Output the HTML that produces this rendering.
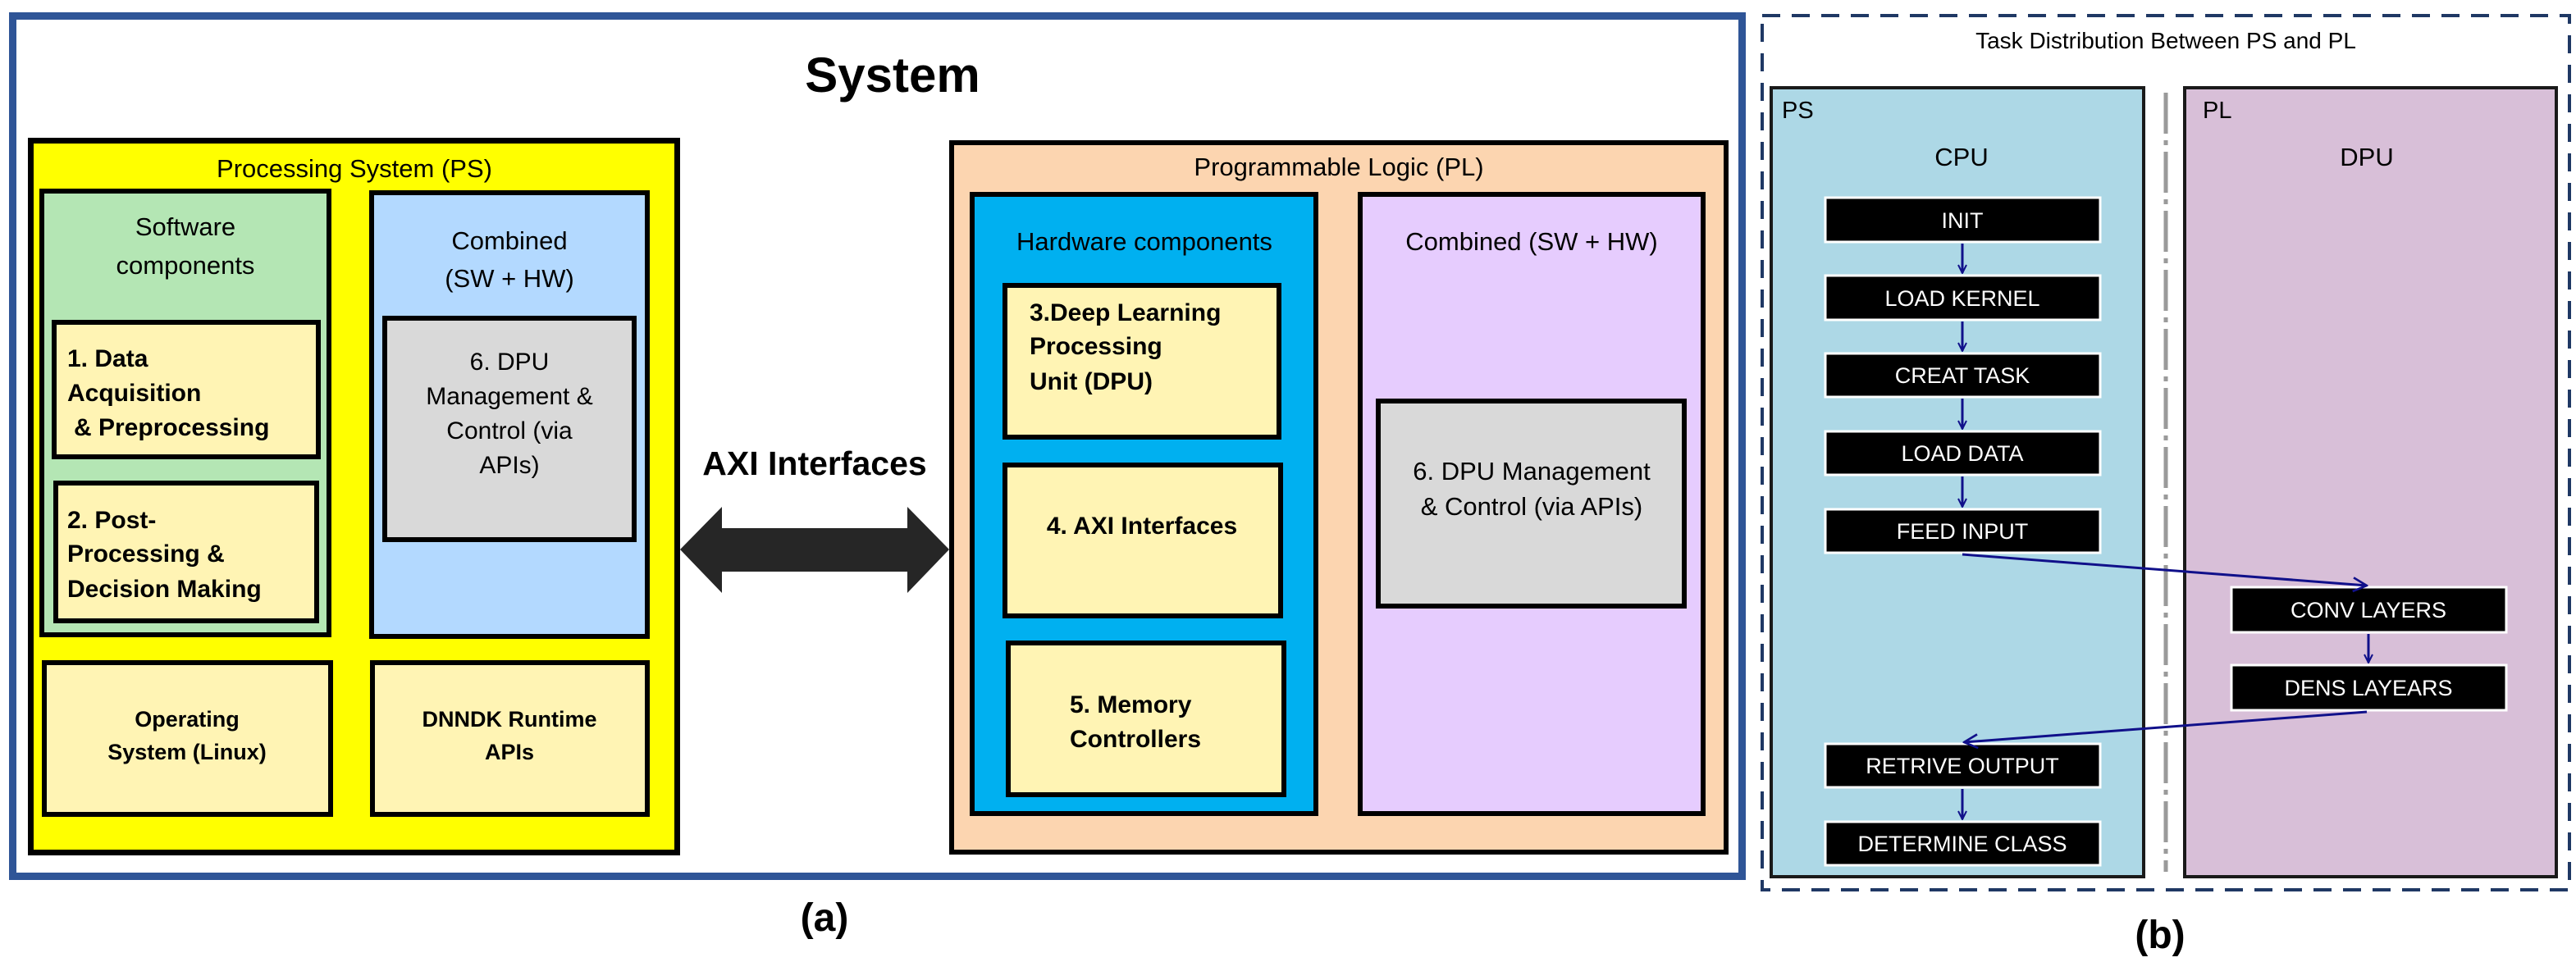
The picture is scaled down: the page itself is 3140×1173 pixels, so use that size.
<!DOCTYPE html>
<html><head><meta charset="utf-8"><style>
html,body{margin:0;padding:0;background:#fff;}
svg{display:block;}
.n{font-family:"Liberation Sans",sans-serif;}
</style></head><body>
<svg width="3140" height="1173" viewBox="0 0 3140 1173" xmlns="http://www.w3.org/2000/svg" class="n">
<defs>
<marker id="ah" viewBox="0 0 12 12" refX="11" refY="6" markerWidth="12" markerHeight="12" orient="auto" markerUnits="userSpaceOnUse">
<path d="M1,1 L11,6 L1,11" fill="none" stroke="#10108a" stroke-width="2"/></marker>
<marker id="ah2" viewBox="0 0 12 12" refX="11" refY="6" markerWidth="20" markerHeight="20" orient="auto" markerUnits="userSpaceOnUse">
<path d="M1,1 L11,6 L1,11" fill="none" stroke="#10108a" stroke-width="1.6"/></marker>
</defs>
<!-- (a) -->
<rect x="15.5" y="19.5" width="2108" height="1049" fill="#fff" stroke="#2f5597" stroke-width="9"/>
<text x="1088" y="112" font-size="60" font-weight="bold" text-anchor="middle">System</text>

<rect x="37.5" y="171.5" width="788" height="868" fill="#ffff00" stroke="#000" stroke-width="7"/>
<text x="432" y="216" font-size="31" text-anchor="middle">Processing System (PS)</text>
<rect x="51" y="233" width="350" height="541" fill="#b4e6b4" stroke="#000" stroke-width="6"/>
<text x="226" y="287" font-size="31" text-anchor="middle">Software</text>
<text x="226" y="334" font-size="31" text-anchor="middle">components</text>
<rect x="453" y="235" width="336" height="541" fill="#b3d9ff" stroke="#000" stroke-width="6"/>
<text x="621" y="304" font-size="31" text-anchor="middle">Combined</text>
<text x="621" y="350" font-size="31" text-anchor="middle">(SW + HW)</text>
<rect x="66" y="393" width="322" height="164" fill="#fff4b4" stroke="#000" stroke-width="6"/>
<g font-size="30" font-weight="bold">
<text x="82" y="447">1. Data</text>
<text x="82" y="489">Acquisition</text>
<text x="90" y="531">&amp; Preprocessing</text>
</g>
<rect x="68" y="589" width="318" height="168" fill="#fff4b4" stroke="#000" stroke-width="6"/>
<g font-size="30" font-weight="bold">
<text x="82" y="644">2. Post-</text>
<text x="82" y="685">Processing &amp;</text>
<text x="82" y="728">Decision Making</text>
</g>
<rect x="469" y="388" width="304" height="270" fill="#d9d9d9" stroke="#000" stroke-width="6"/>
<g font-size="30" text-anchor="middle">
<text x="621" y="451">6. DPU</text>
<text x="621" y="493">Management &amp;</text>
<text x="621" y="535">Control (via</text>
<text x="621" y="577">APIs)</text>
</g>
<rect x="54" y="808" width="349" height="185" fill="#fff4b4" stroke="#000" stroke-width="6"/>
<g font-size="27" font-weight="bold" text-anchor="middle">
<text x="228" y="886">Operating</text>
<text x="228" y="926">System (Linux)</text>
</g>
<rect x="454" y="808" width="335" height="185" fill="#fff4b4" stroke="#000" stroke-width="6"/>
<g font-size="27" font-weight="bold" text-anchor="middle">
<text x="621" y="886">DNNDK Runtime</text>
<text x="621" y="926">APIs</text>
</g>

<text x="993" y="579" font-size="41" font-weight="bold" text-anchor="middle">AXI Interfaces</text>
<polygon points="829,670 880,618 880,644 1106,644 1106,618 1157,670 1106,723 1106,697 880,697 880,723" fill="#262626"/>

<rect x="1160" y="174" width="944" height="865" fill="#fcd5b0" stroke="#000" stroke-width="6"/>
<text x="1632" y="214" font-size="31" text-anchor="middle">Programmable Logic (PL)</text>
<rect x="1185" y="237" width="419" height="755" fill="#00b0f0" stroke="#000" stroke-width="6"/>
<text x="1395" y="305" font-size="31" text-anchor="middle">Hardware components</text>
<rect x="1658" y="237" width="418" height="755" fill="#e6ccfe" stroke="#000" stroke-width="6"/>
<text x="1867" y="305" font-size="31" text-anchor="middle">Combined (SW + HW)</text>
<rect x="1225" y="348" width="334" height="185" fill="#fff4b4" stroke="#000" stroke-width="6"/>
<g font-size="30" font-weight="bold">
<text x="1255" y="391">3.Deep Learning</text>
<text x="1255" y="432">Processing</text>
<text x="1255" y="475">Unit (DPU)</text>
</g>
<rect x="1225" y="567" width="336" height="184" fill="#fff4b4" stroke="#000" stroke-width="6"/>
<text x="1392" y="651" font-size="30" font-weight="bold" text-anchor="middle">4. AXI Interfaces</text>
<rect x="1229" y="784" width="336" height="185" fill="#fff4b4" stroke="#000" stroke-width="6"/>
<g font-size="30" font-weight="bold">
<text x="1304" y="869">5. Memory</text>
<text x="1304" y="911">Controllers</text>
</g>
<rect x="1680" y="489" width="373" height="250" fill="#d9d9d9" stroke="#000" stroke-width="6"/>
<g font-size="31" text-anchor="middle">
<text x="1867" y="585">6. DPU Management</text>
<text x="1867" y="628">&amp; Control (via APIs)</text>
</g>
<text x="1005" y="1135" font-size="48" font-weight="bold" text-anchor="middle">(a)</text>

<!-- (b) -->
<rect x="2148" y="19" width="984" height="1066" fill="#fff" stroke="#1f3864" stroke-width="4" stroke-dasharray="22 14"/>
<text x="2640" y="59" font-size="28" text-anchor="middle">Task Distribution Between PS and PL</text>
<rect x="2159" y="107" width="454" height="962" fill="#add8e6" stroke="#1a1a1a" stroke-width="4"/>
<rect x="2663" y="107" width="453" height="962" fill="#d8bfd8" stroke="#1a1a1a" stroke-width="4"/>
<line x1="2640" y1="113" x2="2640" y2="1063" stroke="#9a9a9a" stroke-width="5" stroke-dasharray="50 8 6 8"/>
<text x="2172" y="144" font-size="29">PS</text>
<text x="2685" y="144" font-size="29">PL</text>
<text x="2391" y="202" font-size="31" text-anchor="middle">CPU</text>
<text x="2885" y="202" font-size="31" text-anchor="middle">DPU</text>
<g stroke="#fff" stroke-width="3" fill="#000">
<rect x="2225" y="241" width="335" height="54"/>
<rect x="2225" y="336" width="335" height="54"/>
<rect x="2225" y="431" width="335" height="53"/>
<rect x="2225" y="526" width="335" height="53"/>
<rect x="2225" y="621" width="335" height="53"/>
<rect x="2720" y="716" width="335" height="55"/>
<rect x="2720" y="811" width="335" height="55"/>
<rect x="2225" y="907" width="335" height="53"/>
<rect x="2225" y="1002" width="335" height="53"/>
</g>
<g font-size="27" fill="#fff" text-anchor="middle">
<text x="2392" y="278">INIT</text>
<text x="2392" y="373">LOAD KERNEL</text>
<text x="2392" y="467">CREAT TASK</text>
<text x="2392" y="562">LOAD DATA</text>
<text x="2392" y="657">FEED INPUT</text>
<text x="2887" y="753">CONV LAYERS</text>
<text x="2887" y="848">DENS LAYEARS</text>
<text x="2392" y="943">RETRIVE OUTPUT</text>
<text x="2392" y="1038">DETERMINE CLASS</text>
</g>
<g stroke="#10108a" stroke-width="3" fill="none">
<line x1="2392" y1="297" x2="2392" y2="333" marker-end="url(#ah)"/>
<line x1="2392" y1="392" x2="2392" y2="428" marker-end="url(#ah)"/>
<line x1="2392" y1="486" x2="2392" y2="523" marker-end="url(#ah)"/>
<line x1="2392" y1="581" x2="2392" y2="618" marker-end="url(#ah)"/>
<line x1="2887" y1="773" x2="2887" y2="808" marker-end="url(#ah)"/>
<line x1="2392" y1="962" x2="2392" y2="999" marker-end="url(#ah)"/>
<line x1="2392" y1="676" x2="2885" y2="714" marker-end="url(#ah2)"/>
<line x1="2885" y1="868" x2="2394" y2="905" marker-end="url(#ah2)"/>
</g>
<text x="2633" y="1156" font-size="48" font-weight="bold" text-anchor="middle">(b)</text>
</svg>
</body></html>
